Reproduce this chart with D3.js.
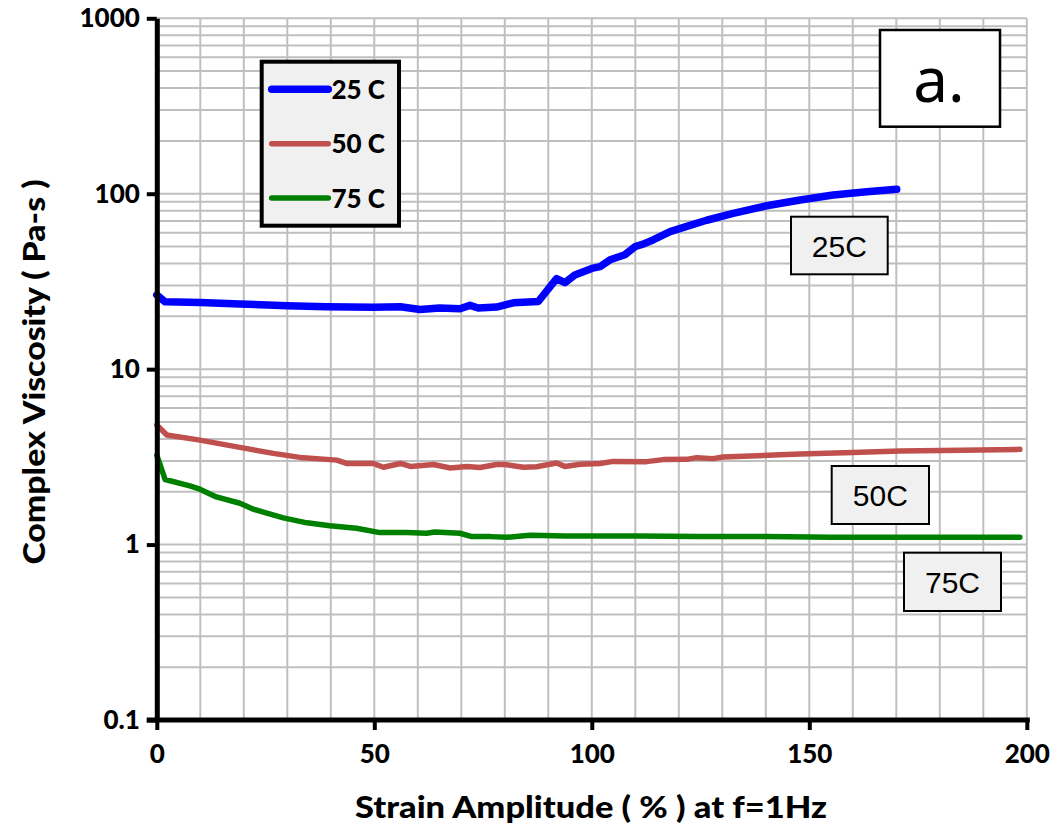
<!DOCTYPE html>
<html>
<head>
<meta charset="utf-8">
<script src="https://cdn.jsdelivr.net/npm/d3@7"></script>
<style>
  body { margin: 0; background: #fff; }
  svg text { font-family: Lato, "Open Sans", sans-serif; }
</style>
</head>
<body>
<svg id="chart" width="1062" height="828"></svg>
<script>
// strain amplitude (%) and complex viscosity (Pa-s)
const strain25 = [0, 1.9, 10, 19.1, 30, 39, 49.8, 56, 60.5, 65, 69.7, 72, 73.9, 78.1, 82, 87.7, 91.9, 93.8, 96.1, 100, 101.9, 104.2, 107.6, 110, 111.8, 114.2, 118, 123.3, 126.4, 132.5, 140.2, 147.9, 155.5, 163.2, 170.1];
const visc25 = [26.5, 24.2, 24.0, 23.5, 23.0, 22.7, 22.5, 22.7, 21.9, 22.3, 22.1, 23.1, 22.3, 22.6, 23.9, 24.3, 32.8, 31.1, 34.4, 37.5, 38.4, 42.0, 44.9, 50.0, 51.6, 54.7, 60.8, 66.9, 70.6, 77.3, 85.4, 92.1, 98.3, 102.7, 105.9];

const strain50 = [0, 2.3, 9.9, 19.1, 26.8, 32.9, 41.4, 43.6, 49.8, 52.1, 56, 58.3, 63.6, 67.5, 71.3, 74.3, 78.1, 80, 84.3, 87.3, 91.9, 93.8, 97.3, 101.9, 104.9, 112.6, 116.4, 121.8, 124.1, 127.9, 130.2, 143.3, 147.9, 160, 170.8, 185, 198.4];
const visc50 = [4.80, 4.21, 3.94, 3.58, 3.31, 3.14, 3.03, 2.90, 2.90, 2.76, 2.90, 2.79, 2.86, 2.73, 2.79, 2.75, 2.86, 2.86, 2.76, 2.78, 2.92, 2.79, 2.87, 2.90, 2.98, 2.97, 3.05, 3.06, 3.13, 3.09, 3.16, 3.25, 3.28, 3.35, 3.41, 3.45, 3.49];

const strain75 = [0, 1.9, 7.6, 9.9, 13.7, 19.1, 22.2, 29.1, 34.5, 39.8, 45.9, 51.3, 57.4, 62, 63.9, 69.7, 72.4, 76.7, 80.4, 85.8, 93.8, 110, 124.9, 140, 155, 170, 185, 198.4];
const visc75 = [3.24, 2.35, 2.16, 2.07, 1.87, 1.72, 1.59, 1.42, 1.33, 1.28, 1.24, 1.17, 1.17, 1.16, 1.18, 1.16, 1.11, 1.11, 1.10, 1.13, 1.12, 1.12, 1.11, 1.11, 1.10, 1.10, 1.10, 1.10];

const seriesNames = ["25 C", "50 C", "75 C"];
const boxLabels = ["25C", "50C", "75C"];
const xTicks = [0, 50, 100, 150, 200];
const yTicks = [0.1, 1, 10, 100, 1000];

const colors = ["#0000ff", "#c0504d", "#008000"];
const widths = [7.5, 5.5, 5.5];

const svg = d3.select("#chart");
const plotL = 156.8, plotR = 1026.8, plotT = 18.3, plotB = 720;

const x = d3.scaleLinear().domain([0, 200]).range([plotL, plotR]);
const y = d3.scaleLog().domain([0.1, 1000]).range([plotB, plotT]);

// grid
const grid = svg.append("g").attr("stroke", "#bfbfbf").attr("stroke-width", 2);
d3.range(10, 201, 10).forEach(v => {
  grid.append("line")
    .attr("x1", x(v)).attr("x2", x(v))
    .attr("y1", plotT).attr("y2", plotB);
});
let minor = [];
[0.1, 1, 10, 100].forEach(d => {
  for (let k = 1; k <= 9; k++) minor.push(d * k);
});
minor.push(1000);
minor.forEach(v => {
  grid.append("line")
    .attr("x1", plotL).attr("x2", plotR)
    .attr("y1", y(v)).attr("y2", y(v));
});

// data lines
const lineGen = d3.line()
  .x(d => x(d[0]))
  .y(d => y(d[1]));

const series = [
  d3.zip(strain25, visc25),
  d3.zip(strain50, visc50),
  d3.zip(strain75, visc75)
];

series.forEach((s, i) => {
  svg.append("path")
    .attr("d", lineGen(s))
    .attr("fill", "none")
    .attr("stroke", colors[i])
    .attr("stroke-width", widths[i])
    .attr("stroke-linejoin", "round")
    .attr("stroke-linecap", "round");
});

// axes
const yAxis = svg.append("g")
  .attr("transform", `translate(${plotL},0)`)
  .call(d3.axisLeft(y).tickValues(yTicks).tickSize(10).tickSizeOuter(0).tickPadding(7)
    .tickFormat(d => d < 1 ? d.toString() : d3.format("d")(d)));
yAxis.select(".domain").attr("stroke-width", 5).attr("stroke", "#000");
yAxis.selectAll(".tick line").attr("stroke-width", 4);
yAxis.selectAll("text").attr("font-size", 26).attr("font-weight", 900).attr("fill", "#000");

const xAxis = svg.append("g")
  .attr("transform", `translate(0,${plotB})`)
  .call(d3.axisBottom(x).tickValues(xTicks).tickSize(10).tickSizeOuter(0).tickPadding(15));
xAxis.select(".domain").attr("stroke-width", 5).attr("stroke", "#000")
  .attr("d", `M${plotL - 10},0H${plotR + 3}`);
xAxis.selectAll(".tick line").attr("stroke-width", 4);
xAxis.selectAll("text").attr("font-size", 26).attr("font-weight", 900).attr("fill", "#000");

// axis titles
svg.append("text")
  .attr("x", 591).attr("y", 818)
  .attr("text-anchor", "middle")
  .attr("font-size", 31).attr("font-weight", 900)
  .attr("textLength", 472).attr("lengthAdjust", "spacingAndGlyphs")
  .text("Strain Amplitude ( % ) at f=1Hz");

svg.append("text")
  .attr("transform", "translate(45,372) rotate(-90)")
  .attr("text-anchor", "middle")
  .attr("font-size", 31).attr("font-weight", 900)
  .attr("textLength", 385).attr("lengthAdjust", "spacingAndGlyphs")
  .text("Complex Viscosity ( Pa-s )");

// legend
const legend = svg.append("g");
legend.append("rect")
  .attr("x", 261.7).attr("y", 61.7)
  .attr("width", 137.3).attr("height", 164)
  .attr("fill", "#f0f0f0").attr("stroke", "#000").attr("stroke-width", 4);
seriesNames.forEach((name, i) => {
  const ly = 89.3 + i * 54.4;
  legend.append("line")
    .attr("x1", 271.7).attr("x2", 328.3)
    .attr("y1", ly).attr("y2", ly)
    .attr("stroke", colors[i]).attr("stroke-width", widths[i])
    .attr("stroke-linecap", "round");
  legend.append("text")
    .attr("x", 331.5).attr("y", ly + 9.5)
    .attr("font-size", 26).attr("font-weight", 900)
    .text(name);
});

// series label boxes
const boxes = [
  { x: 791, y: 216.7, w: 96.7, h: 57.6 },
  { x: 831.7, y: 466, w: 97.3, h: 58 },
  { x: 904, y: 552.7, w: 97, h: 58.3 }
];
boxLabels.forEach((lab, i) => {
  const b = boxes[i];
  svg.append("rect")
    .attr("x", b.x).attr("y", b.y).attr("width", b.w).attr("height", b.h)
    .attr("fill", "#f0f0f0").attr("stroke", "#000").attr("stroke-width", 2);
  svg.append("text")
    .attr("x", b.x + b.w / 2).attr("y", b.y + b.h / 2 + 11)
    .attr("text-anchor", "middle")
    .attr("font-size", 30)
    .style("font-family", "'Liberation Sans', Arial, sans-serif")
    .text(lab);
});

// panel tag
svg.append("rect")
  .attr("x", 880).attr("y", 30).attr("width", 120).attr("height", 96.7)
  .attr("fill", "#fff").attr("stroke", "#000").attr("stroke-width", 2.5);
svg.append("text")
  .attr("x", 939).attr("y", 101.5)
  .attr("text-anchor", "middle")
  .attr("font-size", 62)
  .style("font-family", "'Noto Sans', 'Liberation Sans', sans-serif")
  .style("font-weight", 400)
  .text("a.");
</script>
</body>
</html>
